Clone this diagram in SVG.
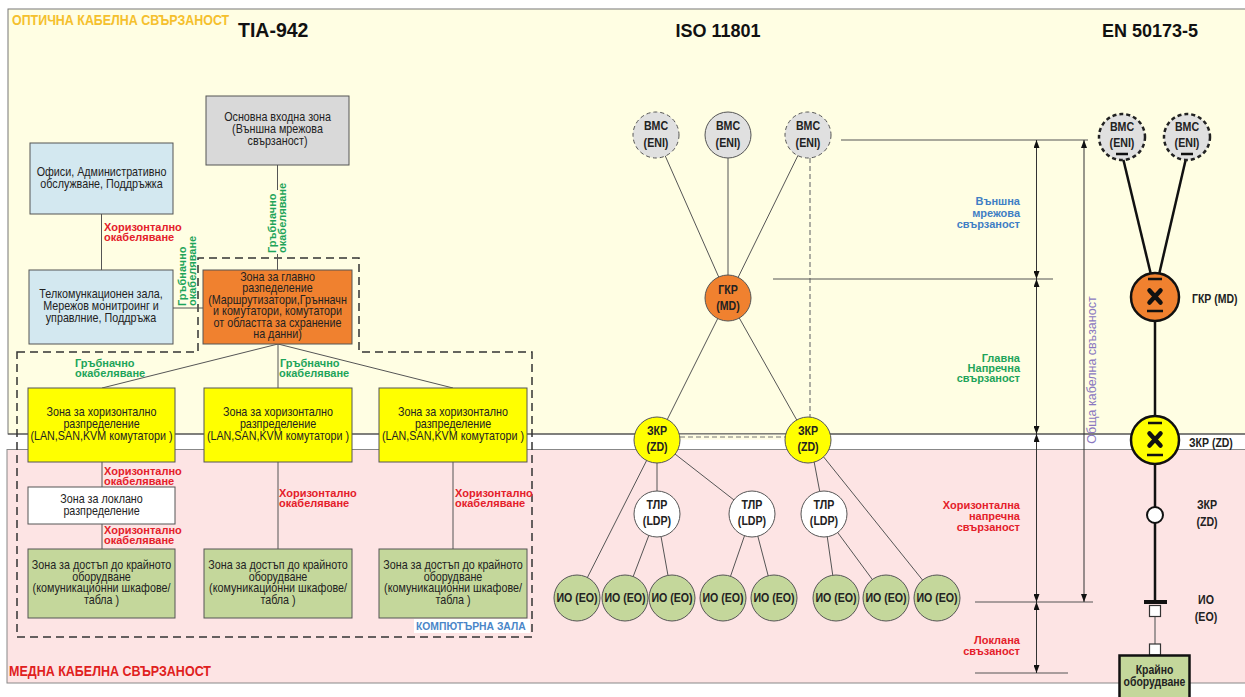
<svg xmlns="http://www.w3.org/2000/svg" width="1245" height="697" viewBox="0 0 1245 697">
<defs>
<style>
.bx{font-family:"Liberation Sans",Arial,sans-serif;font-size:12.5px;fill:#222;text-anchor:middle}
.nd{font-family:"Liberation Sans",Arial,sans-serif;font-size:12.5px;font-weight:bold;fill:#222;text-anchor:middle}
.ndl{font-family:"Liberation Sans",Arial,sans-serif;font-size:12.5px;font-weight:bold;fill:#222}
.lr{font-family:"Liberation Sans",Arial,sans-serif;font-size:11px;font-weight:bold;fill:#e4202a}
.lg{font-family:"Liberation Sans",Arial,sans-serif;font-size:11px;font-weight:bold;fill:#1ea45a}
.lb{font-family:"Liberation Sans",Arial,sans-serif;font-size:11px;font-weight:bold;fill:#3f7fc5}
.hd{font-family:"Liberation Sans",Arial,sans-serif;font-weight:bold;fill:#111}
.ln{stroke:#555;stroke-width:1;fill:none}
.dsh{stroke:#777;stroke-width:1.2;stroke-dasharray:5 3;fill:none}
.thk{stroke:#111;stroke-width:2.5;fill:none}
.dim{stroke:#333;stroke-width:1;fill:none;marker-start:url(#ar);marker-end:url(#ar)}
.box{stroke:#555;stroke-width:1}
.cir{stroke:#555;stroke-width:1}
</style>
<marker id="ar" viewBox="0 0 8 6" refX="8" refY="3" markerWidth="8" markerHeight="6" markerUnits="userSpaceOnUse" orient="auto-start-reverse"><path d="M0,0 L8,3 L0,6 Z" fill="#111"/></marker>
</defs>

<g id="background">
<rect x="0" y="0" width="1245" height="697" fill="#ffffff"/>
<rect x="8" y="9" width="1250" height="425" fill="#fffee3" stroke="#777" stroke-width="1"/>
<rect x="7" y="449.5" width="1250" height="233.5" fill="#fde4e4" stroke="#888" stroke-width="1"/>
<line x1="8" y1="434" x2="1245" y2="434" stroke="#444" stroke-width="1.2"/>
<text transform="translate(12 25) scale(0.83 1)" x="0" y="0" font-family="Liberation Sans, Arial, sans-serif" font-size="15" font-weight="bold" fill="#f5c02d">ОПТИЧНА КАБЕЛНА СВЪРЗАНОСТ</text>
<text transform="translate(9 676) scale(0.835 1)" x="0" y="0" font-family="Liberation Sans, Arial, sans-serif" font-size="15" font-weight="bold" fill="#e02020">МЕДНА КАБЕЛНА СВЪРЗАНОСТ</text>
<text class="hd" x="238" y="37" font-size="19.5">TIA-942</text>
<text class="hd" x="718" y="37" font-size="18" text-anchor="middle">ISO 11801</text>
<text class="hd" x="1150" y="37" font-size="18" text-anchor="middle">EN 50173-5</text>
</g>

<g id="computer-room">
<path d="M17,352 H198 V258 H359 V352 H532 V637 H17 Z" fill="none" stroke="#333" stroke-width="1.5" stroke-dasharray="8 5"/>
<rect x="414" y="619" width="116" height="14" fill="#ffffff"/>
<text transform="translate(416 630) scale(0.9 1)" x="0" y="0" font-family="Liberation Sans, Arial, sans-serif" font-size="11.5" font-weight="bold" fill="#4a86c8">КОМПЮТЪРНА ЗАЛА</text>
</g>

<g id="connectors">
<line class="ln" x1="101.5" y1="214" x2="101.5" y2="270"/>
<line class="ln" x1="277.5" y1="165" x2="277.5" y2="190"/>
<line class="ln" x1="277.5" y1="254" x2="277.5" y2="270"/>
<line class="ln" x1="173" y1="308" x2="203" y2="308"/>
<line class="ln" x1="278" y1="344" x2="102" y2="388"/>
<line class="ln" x1="278" y1="344" x2="278" y2="388"/>
<line class="ln" x1="278" y1="344" x2="453" y2="388"/>
<line class="ln" x1="102" y1="462" x2="102" y2="487"/>
<line class="ln" x1="102" y1="524" x2="102" y2="549"/>
<line class="ln" x1="278" y1="462" x2="278" y2="549"/>
<line class="ln" x1="453" y1="462" x2="453" y2="549"/>
<line class="ln" x1="656" y1="135" x2="728" y2="298"/>
<line class="ln" x1="728" y1="135" x2="728" y2="298"/>
<line class="ln" x1="808" y1="135" x2="728" y2="298"/>
<line class="ln" x1="728" y1="298" x2="657" y2="440"/>
<line class="ln" x1="728" y1="298" x2="808" y2="440"/>
<line class="dsh" x1="810" y1="158" x2="810" y2="418"/>
<rect x="679" y="434.6" width="107" height="5" fill="#fffee3"/>
<line class="dsh" x1="680" y1="437" x2="785" y2="437"/>
<line class="ln" x1="657" y1="440" x2="577" y2="598"/>
<line class="ln" x1="657" y1="440" x2="657" y2="514"/>
<line class="ln" x1="657" y1="440" x2="752" y2="514"/>
<line class="ln" x1="657" y1="514" x2="625" y2="598"/>
<line class="ln" x1="657" y1="514" x2="672" y2="598"/>
<line class="ln" x1="752" y1="514" x2="723" y2="598"/>
<line class="ln" x1="752" y1="514" x2="774" y2="598"/>
<line class="ln" x1="810" y1="440" x2="824" y2="514"/>
<line class="ln" x1="810" y1="440" x2="937" y2="598"/>
<line class="ln" x1="824" y1="514" x2="836" y2="598"/>
<line class="ln" x1="824" y1="514" x2="886" y2="598"/>
<line class="thk" x1="1122" y1="154" x2="1152" y2="279"/>
<line class="thk" x1="1187" y1="154" x2="1158" y2="279"/>
<line class="thk" x1="1155" y1="311" x2="1155" y2="423"/>
<line class="thk" x1="1155" y1="455" x2="1155" y2="507"/>
<line class="thk" x1="1155" y1="523" x2="1155" y2="602"/>
<line stroke="#666" stroke-width="1.2" x1="1155" y1="617" x2="1155" y2="644"/>
</g>

<g id="dimensions">
<line class="ln" x1="841" y1="140" x2="1088" y2="140"/>
<line class="ln" x1="773" y1="279" x2="1053" y2="279"/>
<line class="ln" x1="975" y1="602" x2="1093" y2="602"/>
<line class="ln" x1="975" y1="673" x2="1068" y2="673"/>
<line class="dim" x1="1036.5" y1="140" x2="1036.5" y2="279"/>
<line class="dim" x1="1036.5" y1="279" x2="1036.5" y2="434"/>
<line class="dim" x1="1036.5" y1="434" x2="1036.5" y2="602"/>
<line class="dim" x1="1036.5" y1="602" x2="1036.5" y2="673"/>
<line class="dim" x1="1084" y1="140" x2="1084" y2="602"/>
<text transform="translate(1096,370) rotate(-90)" text-anchor="middle" font-family="Liberation Sans, Arial, sans-serif" font-size="12.5" fill="#8a78c0">Обща кабелна свъзаност</text>
<text class="lb" text-anchor="end"><tspan x="1020" y="204.7">Външна</tspan><tspan x="1020" y="216.5">мрежова</tspan><tspan x="1020" y="228">свързаност</tspan></text>
<text class="lg" text-anchor="end"><tspan x="1020" y="361.7">Главна</tspan><tspan x="1020" y="372">Напречна</tspan><tspan x="1020" y="382.3">свързаност</tspan></text>
<text class="lr" text-anchor="end"><tspan x="1020" y="509">Хоризонтална</tspan><tspan x="1020" y="519.8">напречна</tspan><tspan x="1020" y="530.7">свързаност</tspan></text>
<text class="lr" text-anchor="end"><tspan x="1020" y="644">Локлана</tspan><tspan x="1020" y="654.7">свъзаност</tspan></text>
</g>

<g id="cable-labels">
<text class="lr"><tspan x="104" y="230.5">Хоризонтално</tspan><tspan x="104" y="240.5">окабеляване</tspan></text>
<text class="lr"><tspan x="104" y="474.5">Хоризонтално</tspan><tspan x="104" y="484.5">окабеляване</tspan></text>
<text class="lr"><tspan x="104" y="534">Хоризонтално</tspan><tspan x="104" y="544">окабеляване</tspan></text>
<text class="lr"><tspan x="279" y="497">Хоризонтално</tspan><tspan x="279" y="507">окабеляване</tspan></text>
<text class="lr"><tspan x="455" y="497">Хоризонтално</tspan><tspan x="455" y="507">окабеляване</tspan></text>
<text class="lg"><tspan x="75" y="367">Гръбначно</tspan><tspan x="75" y="377">окабеляване</tspan></text>
<text class="lg"><tspan x="280" y="367">Гръбначно</tspan><tspan x="279" y="377">окабеляване</tspan></text>
<text class="lg" transform="translate(275.5,253) rotate(-90)"><tspan x="0" y="0">Гръбначно</tspan><tspan x="0" y="10">окабеляване</tspan></text>
<text class="lg" transform="translate(186,306) rotate(-90)"><tspan x="0" y="0">Гръбначно</tspan><tspan x="0" y="10">окабеляване</tspan></text>
</g>

<g id="n-entrance">
<rect class="box" x="206" y="96" width="143" height="69" fill="#d9d9d9"/>
<text class="bx" transform="translate(277.5 0) scale(0.86 1)"><tspan x="0" y="121">Основна входна зона</tspan><tspan x="0" y="133">(Външна мрежова</tspan><tspan x="0" y="145">свързаност)</tspan></text>
</g>
<g id="n-offices">
<rect class="box" x="30" y="143" width="143" height="71" fill="#d3e8f0"/>
<text class="bx" transform="translate(101.5 0) scale(0.86 1)"><tspan x="0" y="176">Офиси, Административно</tspan><tspan x="0" y="188">обслужване, Поддръжка</tspan></text>
</g>
<g id="n-telecom">
<rect class="box" x="29" y="270" width="144" height="74" fill="#d3e8f0"/>
<text class="bx" transform="translate(101 0) scale(0.86 1)"><tspan x="0" y="298">Телкомункационен зала,</tspan><tspan x="0" y="310">Мережов монитроинг и</tspan><tspan x="0" y="322">управлние, Поддръжа</tspan></text>
</g>
<g id="n-main-dist">
<rect class="box" x="203" y="270" width="149" height="74" fill="#f0812f"/>
<text class="bx" transform="translate(277.5 0) scale(0.86 1)"><tspan x="0" y="281">Зона за главно</tspan><tspan x="0" y="292.5">разпеделение</tspan><tspan x="0" y="304">(Маршрутизатори,Грънначн</tspan><tspan x="0" y="315.5">и комутатори, комутатори</tspan><tspan x="0" y="327">от областта за схранение</tspan><tspan x="0" y="338.5">на данни)</tspan></text>
</g>
<g id="n-hd1">
<rect class="box" x="28" y="388" width="147" height="74" fill="#ffff00"/>
<text class="bx" transform="translate(101.5 0) scale(0.86 1)"><tspan x="0" y="416">Зона за хоризонтално</tspan><tspan x="0" y="428">разпределение</tspan><tspan x="0" y="440">(LAN,SAN,KVM комутатори )</tspan></text>
</g>
<g id="n-hd2">
<rect class="box" x="204" y="388" width="148" height="74" fill="#ffff00"/>
<text class="bx" transform="translate(278 0) scale(0.86 1)"><tspan x="0" y="416">Зона за хоризонтално</tspan><tspan x="0" y="428">разпределение</tspan><tspan x="0" y="440">(LAN,SAN,KVM комутатори )</tspan></text>
</g>
<g id="n-hd3">
<rect class="box" x="379" y="388" width="148" height="74" fill="#ffff00"/>
<text class="bx" transform="translate(453 0) scale(0.86 1)"><tspan x="0" y="416">Зона за хоризонтално</tspan><tspan x="0" y="428">разпределение</tspan><tspan x="0" y="440">(LAN,SAN,KVM комутатори )</tspan></text>
</g>
<g id="n-local">
<rect class="box" x="28" y="487" width="147" height="37" fill="#ffffff"/>
<text class="bx" transform="translate(101.5 0) scale(0.86 1)"><tspan x="0" y="503">Зона за локлано</tspan><tspan x="0" y="515">разпределение</tspan></text>
</g>
<g id="n-eda1">
<rect class="box" x="28" y="549" width="147" height="69" fill="#c4d79b"/>
<text class="bx" transform="translate(101.5 0) scale(0.86 1)"><tspan x="0" y="569">Зона за достъп до крайното</tspan><tspan x="0" y="581">оборудване</tspan><tspan x="0" y="592.5">(комуникационни шкафове/</tspan><tspan x="0" y="604">табла )</tspan></text>
</g>
<g id="n-eda2">
<rect class="box" x="204" y="549" width="148" height="69" fill="#c4d79b"/>
<text class="bx" transform="translate(278 0) scale(0.86 1)"><tspan x="0" y="569">Зона за достъп до крайното</tspan><tspan x="0" y="581">оборудване</tspan><tspan x="0" y="592.5">(комуникационни шкафове/</tspan><tspan x="0" y="604">табла )</tspan></text>
</g>
<g id="n-eda3">
<rect class="box" x="379" y="549" width="148" height="69" fill="#c4d79b"/>
<text class="bx" transform="translate(453 0) scale(0.86 1)"><tspan x="0" y="569">Зона за достъп до крайното</tspan><tspan x="0" y="581">оборудване</tspan><tspan x="0" y="592.5">(комуникационни шкафове/</tspan><tspan x="0" y="604">табла )</tspan></text>
</g>

<g id="iso-eni1"><circle class="cir" cx="656" cy="135" r="23" fill="#e0e0e0" stroke-dasharray="4 3"/><text class="nd" transform="translate(656 0) scale(0.85 1)"><tspan x="0" y="130.5">ВМС</tspan><tspan x="0" y="147">(ENI)</tspan></text></g>
<g id="iso-eni2"><circle class="cir" cx="728" cy="135" r="23" fill="#e0e0e0"/><text class="nd" transform="translate(728 0) scale(0.85 1)"><tspan x="0" y="130.5">ВМС</tspan><tspan x="0" y="147">(ENI)</tspan></text></g>
<g id="iso-eni3"><circle class="cir" cx="808" cy="135" r="23" fill="#e0e0e0" stroke-dasharray="4 3"/><text class="nd" transform="translate(808 0) scale(0.85 1)"><tspan x="0" y="130.5">ВМС</tspan><tspan x="0" y="147">(ENI)</tspan></text></g>
<g id="iso-md"><circle class="cir" cx="728" cy="298" r="23" fill="#f0812f"/><text class="nd" transform="translate(728 0) scale(0.85 1)"><tspan x="0" y="294.5">ГКР</tspan><tspan x="0" y="310">(MD)</tspan></text></g>
<g id="iso-zd1"><circle class="cir" cx="657" cy="440" r="23" fill="#ffff00"/><text class="nd" transform="translate(657 0) scale(0.85 1)"><tspan x="0" y="435">ЗКР</tspan><tspan x="0" y="451.5">(ZD)</tspan></text></g>
<g id="iso-zd2"><circle class="cir" cx="808" cy="440" r="23" fill="#ffff00"/><text class="nd" transform="translate(808 0) scale(0.85 1)"><tspan x="0" y="435">ЗКР</tspan><tspan x="0" y="451.5">(ZD)</tspan></text></g>
<g id="iso-ldp1"><circle class="cir" cx="657" cy="514" r="23" fill="#ffffff"/><text class="nd" transform="translate(657 0) scale(0.85 1)"><tspan x="0" y="509.5">ТЛР</tspan><tspan x="0" y="525">(LDP)</tspan></text></g>
<g id="iso-ldp2"><circle class="cir" cx="752" cy="514" r="23" fill="#ffffff"/><text class="nd" transform="translate(752 0) scale(0.85 1)"><tspan x="0" y="509.5">ТЛР</tspan><tspan x="0" y="525">(LDP)</tspan></text></g>
<g id="iso-ldp3"><circle class="cir" cx="824" cy="514" r="23" fill="#ffffff"/><text class="nd" transform="translate(824 0) scale(0.85 1)"><tspan x="0" y="509.5">ТЛР</tspan><tspan x="0" y="525">(LDP)</tspan></text></g>
<g id="iso-eo1"><circle class="cir" cx="577" cy="598" r="23" fill="#c4d79b"/><text class="nd" transform="translate(577 0) scale(0.85 1)" x="0" y="602.5">ИО (EO)</text></g>
<g id="iso-eo2"><circle class="cir" cx="625" cy="598" r="23" fill="#c4d79b"/><text class="nd" transform="translate(625 0) scale(0.85 1)" x="0" y="602.5">ИО (EO)</text></g>
<g id="iso-eo3"><circle class="cir" cx="672" cy="598" r="23" fill="#c4d79b"/><text class="nd" transform="translate(672 0) scale(0.85 1)" x="0" y="602.5">ИО (EO)</text></g>
<g id="iso-eo4"><circle class="cir" cx="723" cy="598" r="23" fill="#c4d79b"/><text class="nd" transform="translate(723 0) scale(0.85 1)" x="0" y="602.5">ИО (EO)</text></g>
<g id="iso-eo5"><circle class="cir" cx="774" cy="598" r="23" fill="#c4d79b"/><text class="nd" transform="translate(774 0) scale(0.85 1)" x="0" y="602.5">ИО (EO)</text></g>
<g id="iso-eo6"><circle class="cir" cx="836" cy="598" r="23" fill="#c4d79b"/><text class="nd" transform="translate(836 0) scale(0.85 1)" x="0" y="602.5">ИО (EO)</text></g>
<g id="iso-eo7"><circle class="cir" cx="886" cy="598" r="23" fill="#c4d79b"/><text class="nd" transform="translate(886 0) scale(0.85 1)" x="0" y="602.5">ИО (EO)</text></g>
<g id="iso-eo8"><circle class="cir" cx="937" cy="598" r="23" fill="#c4d79b"/><text class="nd" transform="translate(937 0) scale(0.85 1)" x="0" y="602.5">ИО (EO)</text></g>

<g id="en-eni1"><circle cx="1122" cy="137" r="23" fill="#e0e0e0" stroke="#222" stroke-width="2.5" stroke-dasharray="4 3"/><text class="nd" transform="translate(1122 0) scale(0.85 1)"><tspan x="0" y="131">ВМС</tspan><tspan x="0" y="147.5">(ENI)</tspan></text><line class="thk" x1="1116" y1="154" x2="1128" y2="154"/></g>
<g id="en-eni2"><circle cx="1187" cy="137" r="23" fill="#e0e0e0" stroke="#222" stroke-width="2.5" stroke-dasharray="4 3"/><text class="nd" transform="translate(1187 0) scale(0.85 1)"><tspan x="0" y="131">ВМС</tspan><tspan x="0" y="147.5">(ENI)</tspan></text><line class="thk" x1="1181" y1="154" x2="1193" y2="154"/></g>
<g id="en-md">
<circle cx="1155" cy="297" r="24" fill="#f0812f" stroke="#111" stroke-width="2.5"/>
<line class="thk" x1="1148" y1="279" x2="1162" y2="279"/>
<line class="thk" x1="1147" y1="311" x2="1163" y2="311"/>
<path d="M1149.5,290.5 L1160.5,302.5 M1160.5,290.5 L1149.5,302.5" stroke="#111" stroke-width="4.5" stroke-linecap="round" fill="none"/>
<text class="ndl" transform="translate(1192 0) scale(0.84 1)" x="0" y="303">ГКР (MD)</text>
</g>
<g id="en-zd">
<circle cx="1155" cy="440" r="24" fill="#ffff00" stroke="#111" stroke-width="2.5"/>
<line class="thk" x1="1148" y1="423" x2="1162" y2="423"/>
<line class="thk" x1="1147" y1="455" x2="1163" y2="455"/>
<path d="M1149.5,433.5 L1160.5,445.5 M1160.5,433.5 L1149.5,445.5" stroke="#111" stroke-width="4.5" stroke-linecap="round" fill="none"/>
<text class="ndl" transform="translate(1189 0) scale(0.84 1)" x="0" y="447">ЗКР (ZD)</text>
</g>
<g id="en-ldp">
<circle cx="1155" cy="515" r="8" fill="#ffffff" stroke="#111" stroke-width="2"/>
<text class="nd" transform="translate(1207 0) scale(0.85 1)"><tspan x="0" y="509.5">ЗКР</tspan><tspan x="0" y="526">(ZD)</tspan></text>
</g>
<g id="en-eo">
<line x1="1144" y1="602" x2="1167" y2="602" stroke="#111" stroke-width="4"/>
<rect x="1149.5" y="605.5" width="11" height="11" fill="#ffffff" stroke="#333" stroke-width="1.2"/>
<text class="nd" transform="translate(1206 0) scale(0.85 1)"><tspan x="0" y="604.5">ИО</tspan><tspan x="0" y="621">(EO)</tspan></text>
</g>
<g id="en-equipment">
<rect x="1149.5" y="644" width="11" height="11" fill="#ffffff" stroke="#333" stroke-width="1.2"/>
<rect x="1119.5" y="655.5" width="70" height="50" fill="#c4d79b" stroke="#111" stroke-width="2.5"/>
<text class="nd" font-size="12" transform="translate(1154.5 0) scale(0.87 1)"><tspan x="0" y="674" font-size="12">Крайно</tspan><tspan x="0" y="686.5" font-size="12">оборудване</tspan></text>
</g>
</svg>
